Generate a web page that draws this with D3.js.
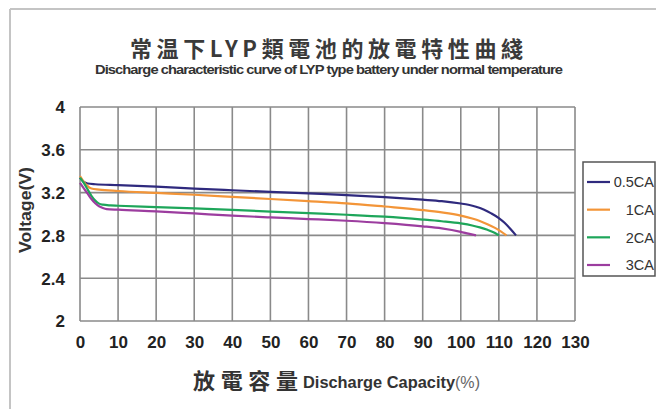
<!DOCTYPE html>
<html><head><meta charset="utf-8">
<script src="https://cdn.jsdelivr.net/npm/d3@7"></script>
<style>
html,body{margin:0;padding:0;background:#fff;}
svg{display:block;}
</style></head>
<body>
<svg id="c" width="656" height="409"></svg>
<script>
const title = "常温下LYP類電池的放電特性曲綫";
const subtitle = "Discharge characteristic curve of LYP  type battery under normal temperature";
const xTicks = [0,10,20,30,40,50,60,70,80,90,100,110,120,130];
const yTicks = [2,2.4,2.8,3.2,3.6,4];
const seriesNames = ["0.5CA","1CA","2CA","3CA"];
const seriesColors = ["#2f2a7e","#f39538","#1ea65a","#9c3d9f"];
const cap05 = [0,1,2,4,10,20,30,40,50,60,70,80,90,95,100,102,104,106,108,110,111.5,113,114.5];
const v05   = [3.34,3.30,3.285,3.278,3.27,3.255,3.238,3.222,3.207,3.192,3.177,3.158,3.134,3.12,3.098,3.086,3.068,3.042,3.006,2.962,2.918,2.862,2.80];
const cap1  = [0,1,2,3,5,10,20,30,40,50,60,70,80,90,95,100,103,105,107,109,110.5,112];
const v1    = [3.355,3.30,3.26,3.238,3.228,3.215,3.197,3.18,3.16,3.14,3.12,3.10,3.07,3.037,3.015,2.985,2.958,2.935,2.905,2.87,2.838,2.80];
const cap2  = [0,1,2,3,4,5,6,8,10,20,30,40,50,60,70,80,90,95,100,103,105,107,109,110];
const v2    = [3.34,3.29,3.23,3.17,3.125,3.097,3.087,3.08,3.077,3.065,3.052,3.038,3.023,3.008,2.993,2.975,2.948,2.932,2.912,2.893,2.875,2.852,2.822,2.80];
const cap3  = [0,1,2,3,4,5,6,7,10,20,30,40,50,60,70,80,90,95,100,102,104];
const v3    = [3.29,3.24,3.19,3.14,3.10,3.072,3.056,3.046,3.04,3.025,3.005,2.985,2.968,2.953,2.937,2.915,2.885,2.865,2.833,2.816,2.80];
const seriesCaps = [cap05,cap1,cap2,cap3];
const seriesVolts = [v05,v1,v2,v3];

const svg = d3.select("#c");
const narrow = "'Liberation Sans Narrow','Arial Narrow','Liberation Sans',Arial,sans-serif";
const cjk = "'Noto Sans CJK TC','Noto Sans CJK SC',sans-serif";

// page frame
svg.append("line").attr("x1",10).attr("y1",9).attr("x2",656).attr("y2",9).attr("stroke","#c4c4c4").attr("stroke-width",2);
svg.append("line").attr("x1",10).attr("y1",9).attr("x2",10).attr("y2",409).attr("stroke","#c4c4c4").attr("stroke-width",2);

const x = d3.scaleLinear().domain([0,130]).range([80,575]);
const y = d3.scaleLinear().domain([2,4]).range([321,107]);

// titles
svg.append("text").attr("x",130).attr("y",57).attr("textLength",393).attr("lengthAdjust","spacing")
  .attr("font-family",cjk).attr("font-size",22).attr("font-weight",700).attr("fill","#3a3a3a").text(title);
svg.append("text").attr("x",95).attr("y",74).attr("textLength",467).attr("lengthAdjust","spacingAndGlyphs")
  .attr("font-family",narrow).attr("font-size",12.5).attr("font-weight","bold").attr("letter-spacing",-0.8).attr("fill","#333").text(subtitle);

// grid
const g = svg.append("g");
g.selectAll("line.vx").data(xTicks).join("line")
  .attr("x1",d=>x(d)).attr("x2",d=>x(d)).attr("y1",y(4)).attr("y2",y(2))
  .attr("stroke","#8a8a8a").attr("stroke-width",1.6);
g.selectAll("line.hy").data(yTicks).join("line")
  .attr("x1",x(0)).attr("x2",x(130)).attr("y1",d=>y(d)).attr("y2",d=>y(d))
  .attr("stroke","#8a8a8a").attr("stroke-width",1.6);

// axes labels via d3 axes (tick lines hidden)
const xa = svg.append("g").attr("transform","translate(0,"+(y(2)+12)+")")
  .call(d3.axisBottom(x).tickValues(xTicks).tickSize(0).tickFormat(d3.format("d")));
xa.select(".domain").remove();
xa.selectAll("text").attr("font-family",narrow).attr("font-size",17).attr("font-weight","bold").attr("fill","#222");

const ya = svg.append("g").attr("transform","translate("+(x(0)-12)+",0)")
  .call(d3.axisLeft(y).tickValues(yTicks).tickSize(0).tickFormat(d=>String(d)));
ya.select(".domain").remove();
ya.selectAll("text").attr("font-family",narrow).attr("font-size",17).attr("font-weight","bold").attr("fill","#222").attr("dy","0.35em");

// y title
svg.append("text").attr("transform","translate(31,210) rotate(-90)").attr("text-anchor","middle")
  .attr("textLength",86).attr("lengthAdjust","spacingAndGlyphs")
  .attr("font-family",narrow).attr("font-size",16.5).attr("font-weight","bold").attr("fill","#333").text("Voltage(V)");

// x title
svg.append("text").attr("x",193).attr("y",389).attr("textLength",105).attr("lengthAdjust","spacing")
  .attr("font-family",cjk).attr("font-size",22).attr("font-weight",700).attr("fill","#333").text("放電容量");
svg.append("text").attr("x",303).attr("y",388).attr("textLength",152).attr("lengthAdjust","spacingAndGlyphs")
  .attr("font-family",narrow).attr("font-size",16).attr("font-weight","bold").attr("fill","#333").text("Discharge Capacity");
svg.append("text").attr("x",455).attr("y",388).attr("textLength",25).attr("lengthAdjust","spacingAndGlyphs")
  .attr("font-family",narrow).attr("font-size",16).attr("font-weight","normal").attr("fill","#666").text("(%)");

// curves
const line = d3.line().x(d=>x(d[0])).y(d=>y(d[1])).curve(d3.curveMonotoneX);
seriesNames.forEach((n,i)=>{
  const pts = seriesCaps[i].map((c,k)=>[c,seriesVolts[i][k]]);
  svg.append("path").datum(pts).attr("d",line).attr("fill","none")
    .attr("stroke",seriesColors[i]).attr("stroke-width",2.2).attr("stroke-linejoin","round");
});

// legend
svg.append("rect").attr("x",583).attr("y",162).attr("width",72).attr("height",114)
  .attr("fill","#fff").attr("stroke","#555").attr("stroke-width",1.5);
const ly = d3.scalePoint().domain(seriesNames).range([182,265]);
seriesNames.forEach((n,i)=>{
  svg.append("line").attr("x1",587).attr("x2",610).attr("y1",ly(n)).attr("y2",ly(n))
    .attr("stroke",seriesColors[i]).attr("stroke-width",2.2);
  svg.append("text").attr("x",654).attr("y",ly(n)).attr("dy","0.36em").attr("text-anchor","end")
    .attr("font-family",narrow).attr("font-size",14.5).attr("fill","#333").text(n);
});
</script>
</body></html>
